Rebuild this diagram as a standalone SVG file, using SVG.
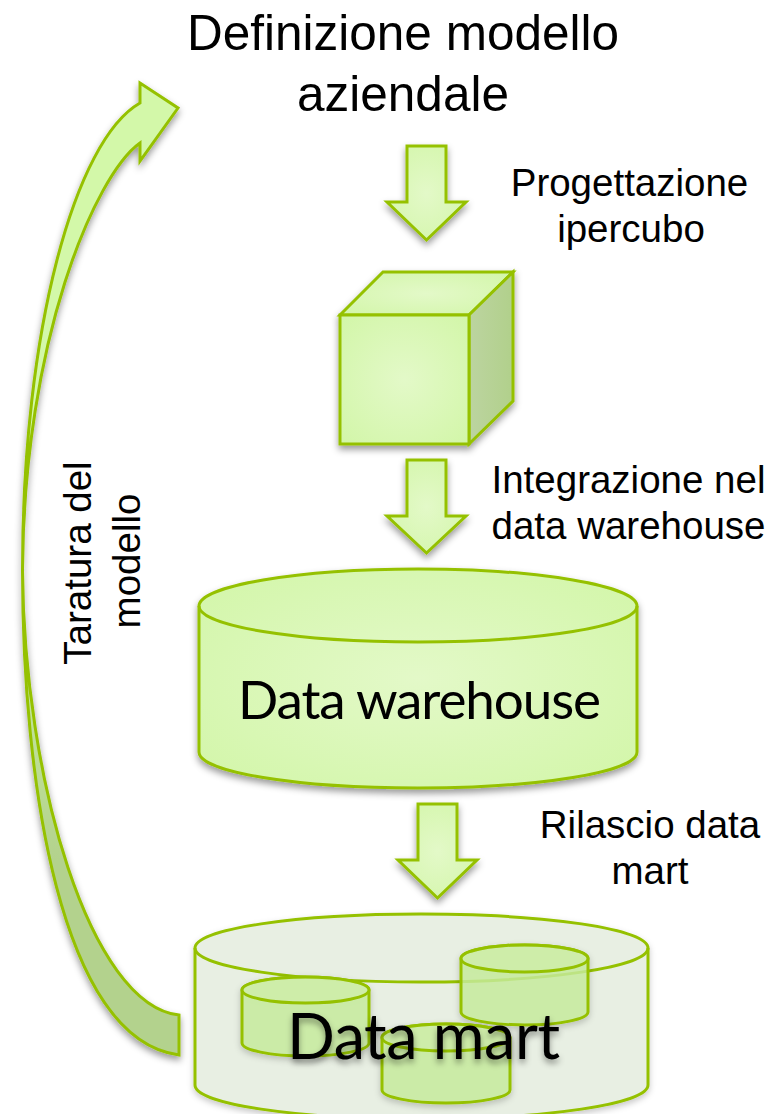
<svg xmlns="http://www.w3.org/2000/svg" width="771" height="1114" viewBox="0 0 771 1114">
<style>
.s{stroke:#95c100;stroke-width:3;stroke-linejoin:miter}
.g{fill:url(#rg)}
.l{font-family:"Liberation Sans",Arial,sans-serif;fill:#000;text-anchor:middle}
.t{font-family:Lato,"Noto Sans",sans-serif;fill:#000}
.sm{fill:#c9ef9f;fill-opacity:.8}
.smt{fill:#cfeeaa;fill-opacity:.8}
</style>
<defs>
<radialGradient id="rg" cx=".5" cy=".5" r=".7">
<stop offset="0" stop-color="#e3f9c8"/><stop offset="1" stop-color="#d2f6a8"/>
</radialGradient>
<linearGradient id="side" x1="0" y1="0" x2="1" y2="0">
<stop offset="0" stop-color="#bcd4a0"/><stop offset="1" stop-color="#b1d08b"/>
</linearGradient>
<linearGradient id="curve" gradientUnits="userSpaceOnUse" x1="0" y1="83" x2="0" y2="1055">
<stop offset="0" stop-color="#d3f8a9"/><stop offset=".45" stop-color="#d3f8a9"/><stop offset=".8" stop-color="#b3d28d"/><stop offset="1" stop-color="#b3d28d"/>
</linearGradient>
<filter id="sh" x="-15%" y="-15%" width="130%" height="135%"><feDropShadow dx="0" dy="4" stdDeviation="3.5" flood-color="#000" flood-opacity=".4"/></filter>
<filter id="shs" x="-15%" y="-15%" width="130%" height="135%"><feDropShadow dx="0" dy="3" stdDeviation="3" flood-color="#000" flood-opacity=".22"/></filter>
<filter id="sht" x="-10%" y="-20%" width="120%" height="150%"><feDropShadow dx="0" dy="4" stdDeviation="3" flood-color="#000" flood-opacity=".4"/></filter>
</defs>

<g id="connectors">
<path id="arrow-taratura" class="s" fill="url(#curve)" filter="url(#sh)" d="M179,1055 C60,1040 22.500,780 22.500,570 C22.500,330 75,140 140,103 V83 L178,108 L140,161 V143 C95,175 24,340 22.500,570 C24,780 90,1005 179,1015 Z"/>
<path id="arrow-1" class="s g" filter="url(#sh)" d="M407,146 H446 V202 H466 L426.5,240 L387,202 H407 Z"/>
<path id="arrow-2" class="s g" filter="url(#sh)" d="M407,460 H446 V516 H466 L426.5,553 L387,516 H407 Z"/>
<path id="arrow-3" class="s g" filter="url(#sh)" d="M418,804 H457 V860 H477 L437.5,898 L398,860 H418 Z"/>
</g>

<g id="node-cube">
<g filter="url(#sh)">
<path class="s g" d="M340,315 L383,272 H513 L469,315 Z"/>
<path class="s" fill="url(#side)" d="M469,315 L513,272 V401 L469,444 Z"/>
<rect class="s g" x="340" y="315" width="129" height="129"/>
</g>
</g>

<g id="node-data-warehouse">
<path class="s g" filter="url(#sh)" d="M199,606 V752 C199,772 297,788 418,788 C539,788 637,772 637,752 V606 C637,586 539,569 418,569 C297,569 199,586 199,606 Z"/>
<path class="s" fill="none" d="M199,606 C199,626 297,642 418,642 C539,642 637,626 637,606"/>
<text class="t" x="238" y="719" font-size="53" textLength="363">Data warehouse</text>
</g>

<g id="node-data-mart">
<path class="s" fill="#e8efe3" filter="url(#shs)" d="M195,948 V1085 C195,1104 296,1119 421,1119 C546,1119 648,1104 648,1085 V948 C648,929 546,914 421,914 C296,914 195,929 195,948 Z"/>
<path class="s" fill="none" d="M195,948 C195,967 296,982 421,982 C546,982 648,967 648,948"/>
<g id="mart-1" filter="url(#shs)">
<path class="s sm" d="M242,990 V1043 C242,1050 270,1056 305.500,1056 C341,1056 369,1050 369,1043 V990 C369,983 341,977 305.500,977 C270,977 242,983 242,990 Z"/>
<ellipse class="s smt" cx="305.500" cy="990" rx="63.500" ry="13"/>
</g>
<g id="mart-2" filter="url(#shs)">
<path class="s sm" d="M461,958.500 V1012 C461,1019 489,1025 524.500,1025 C560,1025 588,1019 588,1012 V958.500 C588,951 560,945 524.500,945 C489,945 461,951 461,958.500 Z"/>
<ellipse class="s smt" cx="524.500" cy="958.500" rx="63.500" ry="13.500"/>
</g>
<g id="mart-3" filter="url(#shs)">
<path class="s sm" d="M382,1037.500 V1090 C382,1097 411,1103 446,1103 C481,1103 510,1097 510,1090 V1037.500 C510,1030 481,1024 446,1024 C411,1024 382,1030 382,1037.500 Z"/>
<ellipse class="s smt" cx="446" cy="1037.500" rx="64" ry="13.500"/>
</g>
<text class="t" x="287" y="1059" font-size="63" textLength="273" filter="url(#sht)">Data mart</text>
</g>

<g id="labels">
<text class="l" x="403" y="50" font-size="49.500">Definizione modello</text>
<text class="l" x="403" y="111" font-size="49.500">aziendale</text>
<text class="l" x="629.500" y="196" font-size="38.500">Progettazione</text>
<text class="l" x="631" y="242" font-size="38.500">ipercubo</text>
<text class="l" x="628.500" y="493" font-size="38.500">Integrazione nel</text>
<text class="l" x="628.500" y="539" font-size="38.500">data warehouse</text>
<text class="l" x="650" y="838" font-size="38.500">Rilascio data</text>
<text class="l" x="650" y="884" font-size="38.500">mart</text>
<text class="l" font-size="38.500" transform="translate(91,563) rotate(-90)">Taratura del</text>
<text class="l" font-size="38.500" transform="translate(140,561) rotate(-90)">modello</text>
</g>
</svg>
